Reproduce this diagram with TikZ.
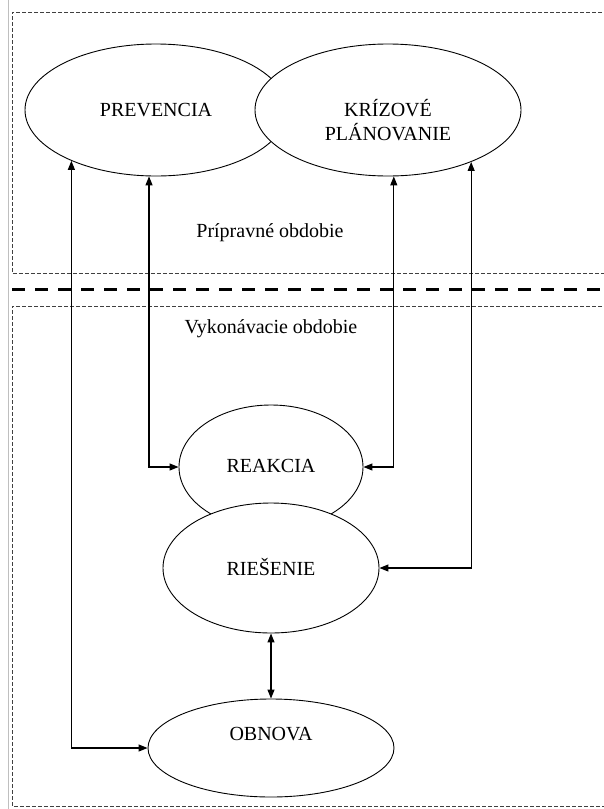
\documentclass[tikz,border=0pt]{standalone}
\usepackage{fontspec}
\setmainfont{Liberation Serif}
\usetikzlibrary{shapes.geometric,arrows.meta}
\begin{document}
\begin{tikzpicture}[x=1pt,y=-1pt,
  oval/.style={draw,ellipse,fill=white,inner sep=0pt,line width=0.9pt},
  txt/.style={font=\fontsize{20}{24}\selectfont,align=center,inner sep=0pt},
  conn/.style={line width=1.1pt,{Triangle[length=9pt,width=7pt]}-{Triangle[length=9pt,width=7pt]}},
  boxline/.style={draw=black!75,line width=0.8pt,dash pattern=on 4pt off 2pt}]
\useasboundingbox (0,0) rectangle (604,809);
% frame lines
\draw[black!25,line width=1pt] (8.5,0) -- (8.5,809);
\draw[boxline] (620,12) -- (12,12) -- (12,273) -- (620,273);
\draw[boxline] (620,306) -- (12,306) -- (12,806) -- (620,806);
\draw[line width=3pt,dash pattern=on 13pt off 10pt] (12,289) -- (620,289);
% ellipses
\node[oval,minimum width=262pt,minimum height=132pt] (prev) at (156,110) {};
\node[oval,minimum width=266pt,minimum height=132pt] (krz) at (388,110) {};
\node[oval,minimum width=184pt,minimum height=124pt] (rea) at (271,467) {};
\node[oval,minimum width=216pt,minimum height=130pt] (ries) at (271,568) {};
\node[oval,minimum width=246pt,minimum height=98pt] (obn) at (271,748) {};
% texts
\node[txt] (tprev) at (156,110) {PREVENCIA};
\node[txt] (tkrz) at (388,120) {KRÍZOVÉ\\PLÁNOVANIE};
\node[txt] (trea) at (271,466) {REAKCIA};
\node[txt] (tries) at (271,567) {RIEŠENIE};
\node[txt] (tobn) at (271,734) {OBNOVA};
\node[txt] (lprip) at (270,233) {Prípravné obdobie};
\node[txt] (lvyk) at (271,329) {Vykonávacie obdobie};
% connectors
\draw[conn] (prev.211) |- (obn.west);
\draw[conn] (prev.264) |- (rea.west);
\draw[conn] (krz.275) |- (rea.east);
\draw[conn] (krz.328) |- (ries.east);
\draw[conn] (ries.south) -- (obn.north);
\end{tikzpicture}
\end{document}
